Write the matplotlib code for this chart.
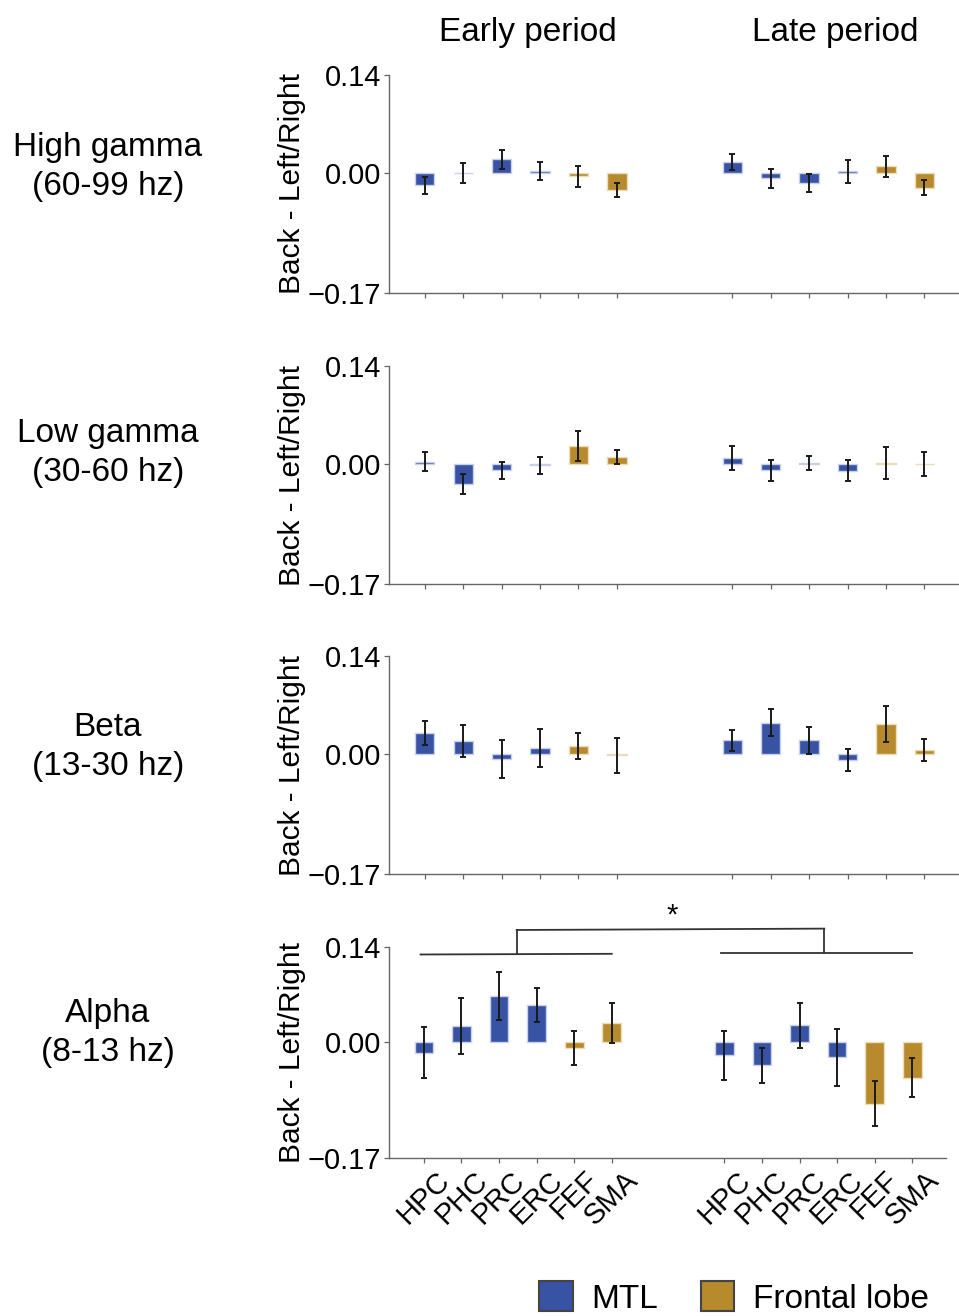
import numpy as np
import matplotlib
matplotlib.use("Agg")
import matplotlib.pyplot as plt
from matplotlib.patches import Patch

plt.rcParams['font.family'] = ['Liberation Sans', 'DejaVu Sans']

regions = ['HPC', 'PHC', 'PRC', 'ERC', 'FEF', 'SMA']
lobe = ['MTL', 'MTL', 'MTL', 'MTL', 'Frontal lobe', 'Frontal lobe']
bands = ['High gamma\n(60-99 hz)', 'Low gamma\n(30-60 hz)', 'Beta\n(13-30 hz)', 'Alpha\n(8-13 hz)']
periods = ['Early period', 'Late period']
ytick_vals = [-0.17, 0.0, 0.14]
ytick_labels = ['\u22120.17', '0.00', '0.14']

# mean (early, late) and sem per band
hg_early = [-0.017, 0.001, 0.020, 0.003, -0.004, -0.023]
hg_late = [0.016, -0.007, -0.014, 0.003, 0.010, -0.020]
hg_early_err = [0.012, 0.014, 0.014, 0.013, 0.015, 0.010]
hg_late_err = [0.011, 0.014, 0.013, 0.016, 0.015, 0.010]

lg_early = [0.004, -0.028, -0.008, -0.001, 0.026, 0.010]
lg_late = [0.009, -0.008, 0.002, -0.009, 0.002, 0.000]
lg_early_err = [0.013, 0.014, 0.012, 0.012, 0.021, 0.010]
lg_late_err = [0.017, 0.015, 0.010, 0.015, 0.023, 0.017]

beta_early = [0.031, 0.019, -0.006, 0.009, 0.012, -0.001]
beta_late = [0.020, 0.045, 0.020, -0.008, 0.043, 0.006]
beta_early_err = [0.017, 0.023, 0.027, 0.027, 0.018, 0.025]
beta_late_err = [0.015, 0.019, 0.019, 0.016, 0.026, 0.016]

alpha_early = [-0.015, 0.024, 0.068, 0.055, -0.009, 0.028]
alpha_late = [-0.019, -0.034, 0.025, -0.022, -0.090, -0.052]
alpha_early_err = [0.038, 0.041, 0.035, 0.025, 0.025, 0.029]
alpha_late_err = [0.036, 0.026, 0.033, 0.042, 0.033, 0.029]

means = [hg_early + hg_late, lg_early + lg_late, beta_early + beta_late, alpha_early + alpha_late]
errs = [hg_early_err + hg_late_err, lg_early_err + lg_late_err,
        beta_early_err + beta_late_err, alpha_early_err + alpha_late_err]

colors = {'MTL': '#3953a4', 'Frontal lobe': '#b78a2e'}
edges = {'MTL': '#c9d0ea', 'Frontal lobe': '#ecdcb8'}

x = np.r_[np.arange(6), np.arange(8, 14)]
bar_cols = [colors[l] for l in lobe] * 2
bar_edges = [edges[l] for l in lobe] * 2

W, H = 959, 1316
fig = plt.figure(figsize=(W / 100, H / 100), dpi=100)

# axes boxes in pixels: left, top, right, bottom
boxes = [(389, 75, 959, 293), (389, 366, 959, 584), (389, 656, 959, 874), (389, 947, 946, 1158)]
row_y = [167, 453, 747, 1033]

axes = []
for i, (l, t, r, b) in enumerate(boxes):
    ax = fig.add_axes([l / W, 1 - b / H, (r - l) / W, (b - t) / H])
    axes.append(ax)
    ax.bar(x, means[i], width=0.5, color=bar_cols, edgecolor=bar_edges, linewidth=1.0, zorder=2)
    ax.errorbar(x, means[i], yerr=errs[i], fmt='none', ecolor='#1a1a1a', elinewidth=1.4,
                capsize=2.5, capthick=1.4, zorder=3)
    ax.set_xlim(-0.93, 13.9)
    ax.set_ylim(-0.17, 0.14)
    ax.set_yticks(ytick_vals)
    ax.set_yticklabels(ytick_labels)
    ax.set_xticks(x)
    if i == 3:
        ax.set_xticklabels(regions * 2, rotation=45, fontsize=20)
    else:
        ax.set_xticklabels([])
    for s in ['top', 'right']:
        ax.spines[s].set_visible(False)
    for s in ['left', 'bottom']:
        ax.spines[s].set_color('#666666')
        ax.spines[s].set_linewidth(1.0)
    ax.tick_params(axis='both', length=3.5, width=0.9, color='#666666', labelsize=21, pad=2)
    ax.set_ylabel('Back - Left/Right', fontsize=21.5, labelpad=1)
    fig.text(108 / W, 1 - row_y[i] / H, bands[i], ha='center', va='center',
             fontsize=24, multialignment='center', linespacing=1.3)

# period titles
fig.text(528 / W, 1 - 33 / H, periods[0], ha='center', va='center', fontsize=24)
fig.text(835 / W, 1 - 33 / H, periods[1], ha='center', va='center', fontsize=24)

# significance bracket on alpha panel
ax = axes[3]
lk = dict(color='#333333', linewidth=1.3, clip_on=False)
ax.plot([-0.09, 5.0], [0.129, 0.130], **lk)
ax.plot([7.9, 13.0], [0.131, 0.131], **lk)
ax.plot([2.47, 2.47], [0.130, 0.165], **lk)
ax.plot([10.66, 10.66], [0.131, 0.167], **lk)
ax.plot([2.47, 10.66], [0.165, 0.167], **lk)
ax.text(6.6, 0.186, '*', ha='center', va='center', fontsize=21, clip_on=False)

handles = [Patch(facecolor=colors[k], edgecolor='#444444', linewidth=1.5, label=k)
           for k in ['MTL', 'Frontal lobe']]
fig.legend(handles=handles, loc='center', bbox_to_anchor=(734 / W, 1 - 1298 / H), ncol=2,
           frameon=False, fontsize=24, handlelength=1.0, handleheight=1.0,
           handletextpad=0.55, columnspacing=1.3)

fig.savefig('out.png', dpi=100)
